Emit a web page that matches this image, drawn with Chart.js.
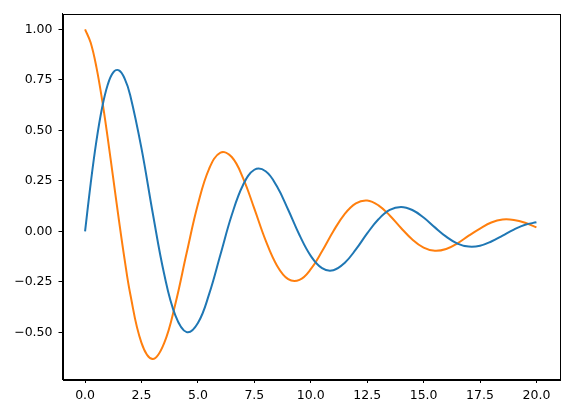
<!DOCTYPE html>
<html>
<head>
<meta charset="utf-8">
<script src="https://cdn.jsdelivr.net/npm/chart.js@4"></script>
<style>
    html, body { margin: 0; padding: 0; background: #fff; }
    #wrap { width: 567px; height: 413px; }
</style>
</head>
<body>
<div id="wrap"><canvas id="chart" width="567" height="413"></canvas></div>
<script>
const xValues = [0, 0.25, 0.5, 0.75, 1, 1.25, 1.5, 1.75, 2, 2.5, 3, 3.5, 4, 4.5, 5, 5.5, 6, 6.5, 7, 7.5, 8, 8.5, 9, 9.5,
    10, 10.5, 11, 11.5, 12, 12.5, 13, 13.5, 14, 14.5, 15, 15.5, 16, 16.5, 17, 17.5, 18, 18.5, 19, 19.5, 20];

const blueValues = [0, 0.238, 0.445, 0.609, 0.724, 0.787, 0.797, 0.757, 0.674, 0.411, 0.090, -0.208, -0.415, -0.498, -0.453, -0.309,
    -0.114, 0.081, 0.230, 0.305, 0.298, 0.223, 0.107, -0.018, -0.121, -0.182, -0.192, -0.156, -0.089,
    -0.010, 0.060, 0.106, 0.121, 0.106, 0.069, 0.020, -0.026, -0.060, -0.075, -0.071, -0.050, -0.021,
    0.009, 0.033, 0.045];

const orangeValues = [1, 0.933, 0.814, 0.654, 0.465, 0.261, 0.056, -0.137, -0.308, -0.551, -0.631, -0.554, -0.359, -0.107, 0.134, 0.311,
    0.390, 0.368, 0.264, 0.113, -0.044, -0.168, -0.236, -0.240, -0.187, -0.098, 0.001, 0.086, 0.139,
    0.153, 0.129, 0.079, 0.017, -0.040, -0.080, -0.096, -0.087, -0.059, -0.021, 0.014, 0.044, 0.059,
    0.057, 0.043, 0.020];

const xTicks = [0, 2.5, 5, 7.5, 10, 12.5, 15, 17.5, 20];
const yTicks = [-0.5, -0.25, 0, 0.25, 0.5, 0.75, 1];

function toPoints(ys) {
    return xValues.map((x, i) => ({ x: x, y: ys[i] }));
}

function fmt(v, digits) {
    return v.toFixed(digits).replace('-', '\u2212');
}

const boxPlugin = {
    id: 'box',
    afterDraw(chart) {
        const a = chart.chartArea;
        const ctx = chart.ctx;
        ctx.save();
        ctx.strokeStyle = '#000';
        ctx.lineWidth = 1;
        ctx.strokeRect(Math.round(a.left) + 0.5, Math.round(a.top) + 0.5,
            Math.round(a.right - a.left), Math.round(a.bottom - a.top));
        ctx.restore();
    }
};

const tickFont = { family: 'DejaVu Sans', size: 12.5 };

new Chart(document.getElementById('chart'), {
    type: 'line',
    data: {
        datasets: [{
            data: toPoints(blueValues),
            borderColor: '#1f77b4',
            borderWidth: 2,
            pointRadius: 0,
            tension: 0.4,
            fill: false
        }, {
            data: toPoints(orangeValues),
            borderColor: '#ff7f0e',
            borderWidth: 2,
            pointRadius: 0,
            tension: 0.4,
            fill: false
        }]
    },
    options: {
        responsive: false,
        animation: false,
        plugins: {
            legend: { display: false },
            tooltip: { enabled: false }
        },
        layout: {
            padding: { top: 10, right: 8, left: 0, bottom: 0 }
        },
        scales: {
            x: {
                type: 'linear',
                min: -1,
                max: 21,
                afterBuildTicks: (axis) => { axis.ticks = xTicks.map(v => ({ value: v })); },
                afterFit: (axis) => { axis.height = 34; },
                grid: { drawOnChartArea: false, drawTicks: true, tickLength: 4, color: '#000' },
                border: { display: true, color: '#000' },
                ticks: {
                    color: '#000',
                    font: tickFont,
                    padding: 5,
                    maxRotation: 0,
                    callback: (v) => fmt(v, 1)
                }
            },
            y: {
                min: -0.73,
                max: 1.078,
                afterBuildTicks: (axis) => { axis.ticks = yTicks.map(v => ({ value: v })); },
                afterFit: (axis) => { axis.width = 62.5; },
                grid: { drawOnChartArea: false, drawTicks: true, tickLength: 4, color: '#000' },
                border: { display: true, color: '#000' },
                ticks: {
                    color: '#000',
                    font: tickFont,
                    padding: 6,
                    callback: (v) => fmt(v, 2)
                }
            }
        }
    },
    plugins: [boxPlugin]
});
</script>
</body>
</html>
